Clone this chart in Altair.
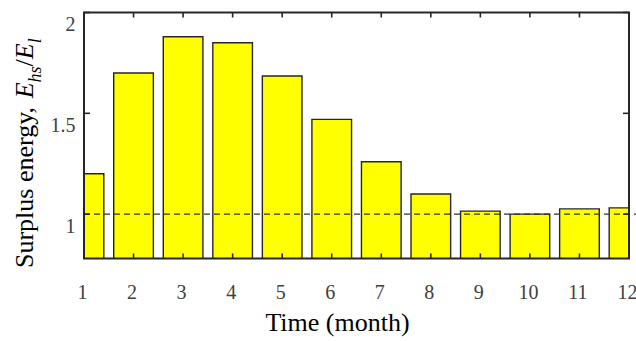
import altair as alt
import pandas as pd

# Monthly surplus energy ratio E_hs / E_l
months = list(range(1, 13))
ratio = [1.20, 1.70, 1.88, 1.85, 1.685, 1.47, 1.26, 1.10, 1.015, 1.0, 1.026, 1.031]

x_tick_values = months
y_tick_values = [1.0, 1.5, 2.0]
reference_level = 1.0

# plot area geometry (pixels)
W, H = 545, 246
Y_MIN, Y_MAX = 0.78, 2.0
HALF_BAR = 0.4
TICK_LEN = 5

SERIF = "Liberation Serif"
INK = "#262626"
LABEL = "#404040"

bars_df = pd.DataFrame({"month": months, "ratio": ratio})
bars_df["left"] = bars_df["month"] - HALF_BAR
bars_df["right"] = bars_df["month"] + HALF_BAR
bars_df["base"] = 0.0

xs = alt.Scale(domain=[1, 12], nice=False, zero=False)
ys = alt.Scale(domain=[Y_MIN, Y_MAX], nice=False, zero=False)

x_axis = alt.Axis(
    values=x_tick_values, format="d", grid=False, domain=False, ticks=False, tickSize=0,
    labelFont=SERIF, labelFontSize=20, labelColor=LABEL, labelPadding=40,
    labelBaseline="alphabetic", labelFlush=False, labelOffset=-2,
    title="Time (month)", titleFont=SERIF, titleFontSize=26, titleFontWeight="normal",
    titleColor="black", titleX=253, titleY=72, titleBaseline="alphabetic",
)
y_axis = alt.Axis(
    values=y_tick_values, format="~g", grid=False, domain=False, ticks=False, tickSize=0,
    labelFont=SERIF, labelFontSize=20, labelColor=LABEL, labelPadding=9,
    labelOffset=12, labelFlush=False, title=None,
)

bars = alt.Chart(bars_df).mark_rect(
    fill="#ffff00", stroke=INK, strokeWidth=1.4, clip=True
).encode(
    x=alt.X("left:Q", scale=xs, axis=x_axis),
    x2="right:Q",
    y=alt.Y("ratio:Q", scale=ys, axis=y_axis),
    y2="base:Q",
)

# dashed reference line at ratio = 1, running out past the right border
ref_df = pd.DataFrame({"start": [1.0], "end": [12.15], "level": [reference_level]})
ref_line = alt.Chart(ref_df).mark_rule(
    color="#333333", strokeWidth=1.4, strokeDash=[6, 4]
).encode(x="start:Q", x2="end:Q", y="level:Q")

# inward ticks on all four sides
xt_df = pd.DataFrame({"month": x_tick_values})
yt_df = pd.DataFrame({"v": y_tick_values})
tick_style = dict(color=INK, strokeWidth=1.6)
bottom_ticks = alt.Chart(xt_df).mark_rule(**tick_style).encode(
    x="month:Q", y=alt.value(H), y2=alt.value(H - TICK_LEN))
top_ticks = alt.Chart(xt_df).mark_rule(**tick_style).encode(
    x="month:Q", y=alt.value(0), y2=alt.value(TICK_LEN))
left_ticks = alt.Chart(yt_df).mark_rule(**tick_style).encode(
    y="v:Q", x=alt.value(0), x2=alt.value(TICK_LEN + 1))
right_ticks = alt.Chart(yt_df).mark_rule(**tick_style).encode(
    y="v:Q", x=alt.value(W - TICK_LEN - 1), x2=alt.value(W))

# box around the axes
frame = alt.Chart(pd.DataFrame({"k": [0]})).mark_rect(
    filled=False, stroke=INK, strokeWidth=2
).encode(x=alt.value(0), x2=alt.value(W), y=alt.value(0), y2=alt.value(H))

# y-axis title with italic symbols and subscripts, laid out with Times metrics
TIMES_REGULAR = {"S": 556, "u": 500, "r": 333, "p": 500, "l": 278, "s": 389, " ": 250,
                 "e": 444, "n": 500, "g": 500, "y": 500, ",": 250, "/": 278}
TIMES_ITALIC = {"E": 611, "h": 500, "s": 389, "l": 278}

title_parts = [
    ("Surplus energy, ", "normal", 26, 0),
    ("E", "italic", 26, 0),
    ("hs", "italic", 18, 1),
    ("/", "normal", 26, 0),
    ("E", "italic", 26, 0),
    ("l", "italic", 18, 1),
]
TITLE_START = 255.5     # where the text begins (plot-relative y)
TITLE_BASE = -51        # baseline of the main text (plot-relative x)
SUB_SHIFT = 8

rows = []
pos = TITLE_START
for text, style, size, sub in title_parts:
    metrics = TIMES_ITALIC if style == "italic" else TIMES_REGULAR
    rows.append({"text": text, "style": style, "size": size,
                 "px": TITLE_BASE + SUB_SHIFT * sub, "py": pos})
    pos -= sum(metrics[c] for c in text) / 1000 * size
title_df = pd.DataFrame(rows)


def title_layer(style):
    return alt.Chart(title_df).transform_filter(
        alt.datum.style == style
    ).mark_text(
        angle=270, align="left", baseline="alphabetic", font=SERIF,
        fontStyle=style, color="black"
    ).encode(
        x=alt.X("px:Q", scale=None),
        y=alt.Y("py:Q", scale=None),
        text="text:N",
        size=alt.Size("size:Q", scale=None, legend=None),
    )


chart = alt.layer(
    bars, ref_line, bottom_ticks, top_ticks, left_ticks, right_ticks, frame,
    title_layer("normal"), title_layer("italic"),
).properties(
    width=W, height=H,
    autosize=alt.AutoSizeParams(type="none"),
    padding={"left": 84, "top": 12.5, "right": 7, "bottom": 82.5},
).configure_view(stroke=None)

chart.save("out.html", embed_options={"renderer": "svg", "actions": False})
